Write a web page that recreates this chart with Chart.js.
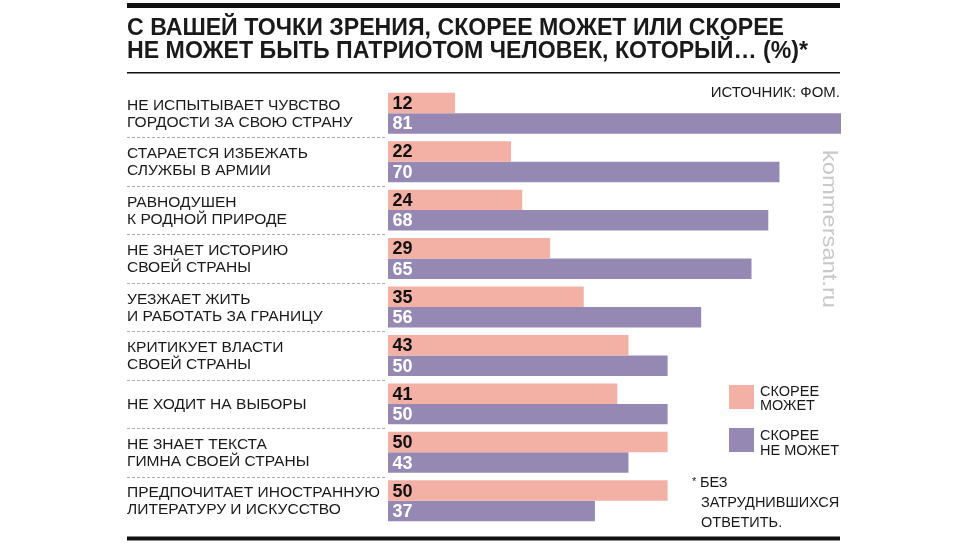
<!DOCTYPE html>
<html lang="ru">
<head>
    <meta charset="UTF-8">
    <title>Патриотизм — опрос ФОМ</title>
    <script src="https://cdn.jsdelivr.net/npm/chart.js"></script>
    <style>
        html, body { margin: 0; padding: 0; background: #fff; }
    </style>
</head>
<body>
    <canvas id="chart" width="968" height="544"></canvas>

    <script>
        // Данные графика
        const categories = [
            ['НЕ ИСПЫТЫВАЕТ ЧУВСТВО', 'ГОРДОСТИ ЗА СВОЮ СТРАНУ'],
            ['СТАРАЕТСЯ ИЗБЕЖАТЬ', 'СЛУЖБЫ В АРМИИ'],
            ['РАВНОДУШЕН', 'К РОДНОЙ ПРИРОДЕ'],
            ['НЕ ЗНАЕТ ИСТОРИЮ', 'СВОЕЙ СТРАНЫ'],
            ['УЕЗЖАЕТ ЖИТЬ', 'И РАБОТАТЬ ЗА ГРАНИЦУ'],
            ['КРИТИКУЕТ ВЛАСТИ', 'СВОЕЙ СТРАНЫ'],
            ['НЕ ХОДИТ НА ВЫБОРЫ'],
            ['НЕ ЗНАЕТ ТЕКСТА', 'ГИМНА СВОЕЙ СТРАНЫ'],
            ['ПРЕДПОЧИТАЕТ ИНОСТРАННУЮ', 'ЛИТЕРАТУРУ И ИСКУССТВО']
        ];
        const canBe = [12, 22, 24, 29, 35, 43, 41, 50, 50];
        const cannotBe = [81, 70, 68, 65, 56, 50, 50, 43, 37];
        const seriesNames = [['СКОРЕЕ', 'МОЖЕТ'], ['СКОРЕЕ', 'НЕ МОЖЕТ']];
        const titleLines = [
            'С ВАШЕЙ ТОЧКИ ЗРЕНИЯ, СКОРЕЕ МОЖЕТ ИЛИ СКОРЕЕ',
            'НЕ МОЖЕТ БЫТЬ ПАТРИОТОМ ЧЕЛОВЕК, КОТОРЫЙ… (%)*'
        ];
        const sourceText = 'ИСТОЧНИК: ФОМ.';
        const footnote = ['БЕЗ', 'ЗАТРУДНИВШИХСЯ', 'ОТВЕТИТЬ.'];
        const watermark = 'kommersant.ru';

        const PINK = '#f3b0a5';
        const PURPLE = '#9589b4';
        const INK = '#1a1a1a';
        const FONT = '"Liberation Sans", Arial, sans-serif';
        const LEFT = 127, RIGHT = 840;

        // текст, сжатый по горизонтали до нужной ширины
        function fitText(ctx, text, x, y, width) {
            const w = ctx.measureText(text).width;
            ctx.save();
            ctx.translate(x, y);
            ctx.scale(width / w, 1);
            ctx.fillText(text, 0, 0);
            ctx.restore();
        }

        const decor = {
            id: 'decor',
            afterDraw(chart) {
                const ctx = chart.ctx;
                const yScale = chart.scales.y;
                const step = yScale.getPixelForValue(1) - yScale.getPixelForValue(0);
                ctx.save();

                // линии
                ctx.fillStyle = '#111';
                ctx.fillRect(LEFT, 3, RIGHT - LEFT, 5);
                ctx.fillRect(LEFT, 72, RIGHT - LEFT, 1.5);
                ctx.fillRect(LEFT, 536.5, RIGHT - LEFT, 4);

                // заголовок
                ctx.fillStyle = INK;
                ctx.textBaseline = 'alphabetic';
                ctx.textAlign = 'left';
                ctx.font = 'bold 24px ' + FONT;
                fitText(ctx, titleLines[0], LEFT, 35, 657);
                fitText(ctx, titleLines[1], LEFT, 57.5, 681);

                // источник
                ctx.font = '15px ' + FONT;
                ctx.textAlign = 'right';
                ctx.fillText(sourceText, RIGHT, 97);

                // подписи категорий
                ctx.textAlign = 'left';
                ctx.textBaseline = 'middle';
                ctx.font = '15px ' + FONT;
                const longest = Math.max(...categories.flat().map(t => ctx.measureText(t).width));
                const sx = 253 / longest;
                categories.forEach((lines, i) => {
                    const cy = yScale.getPixelForValue(i);
                    const ys = lines.length === 1 ? [cy + 0.5] : [cy - 7.5, cy + 9.5];
                    lines.forEach((t, k) => {
                        ctx.save();
                        ctx.translate(LEFT, ys[k]);
                        ctx.scale(sx, 1);
                        ctx.fillText(t, 0, 0);
                        ctx.restore();
                    });
                    // пунктир между строками
                    if (i < categories.length - 1) {
                        const ly = Math.round(cy + step / 2) + 0.5;
                        ctx.save();
                        ctx.strokeStyle = '#ababab';
                        ctx.lineWidth = 1;
                        ctx.setLineDash([3, 2]);
                        ctx.beginPath();
                        ctx.moveTo(LEFT, ly);
                        ctx.lineTo(387, ly);
                        ctx.stroke();
                        ctx.restore();
                    }
                });

                // значения внутри столбиков
                ctx.font = 'bold 18px ' + FONT;
                chart.data.datasets.forEach((ds, di) => {
                    const meta = chart.getDatasetMeta(di);
                    ctx.fillStyle = di === 0 ? '#111' : '#fff';
                    meta.data.forEach((bar, i) => {
                        ctx.fillText(String(ds.data[i]), bar.base + 4.5, bar.y + 1);
                    });
                });

                // легенда
                ctx.font = '14.5px ' + FONT;
                ctx.textBaseline = 'alphabetic';
                [[PINK, 385, [396, 410]], [PURPLE, 428, [440, 455]]].forEach(([c, top, bl], k) => {
                    ctx.fillStyle = c;
                    ctx.fillRect(729, top, 25, 24);
                    ctx.fillStyle = INK;
                    seriesNames[k].forEach((t, j) => ctx.fillText(t, 760, bl[j]));
                });

                // сноска
                ctx.fillText(footnote[0], 700, 487);
                ctx.fillText(footnote[1], 701, 507);
                ctx.fillText(footnote[2], 701, 527);
                ctx.font = '11px ' + FONT;
                ctx.fillText('*', 692, 485);

                // водяной знак
                ctx.save();
                ctx.translate(829, 150);
                ctx.rotate(Math.PI / 2);
                ctx.font = '20px ' + FONT;
                ctx.fillStyle = '#c8c8c8';
                ctx.textBaseline = 'middle';
                fitText(ctx, watermark, 0, 0, 158);
                ctx.restore();

                ctx.restore();
            }
        };

        new Chart(document.getElementById('chart').getContext('2d'), {
            type: 'bar',
            data: {
                labels: categories,
                datasets: [
                    { label: seriesNames[0].join(' '), data: canBe, backgroundColor: PINK },
                    { label: seriesNames[1].join(' '), data: cannotBe, backgroundColor: PURPLE }
                ]
            },
            options: {
                indexAxis: 'y',
                responsive: false,
                animation: false,
                categoryPercentage: 0.845,
                barPercentage: 1,
                layout: { padding: { left: 388, right: 127, top: 89, bottom: 19 } },
                plugins: { legend: { display: false }, tooltip: { enabled: false } },
                scales: {
                    x: { display: false, min: 0, max: 81 },
                    y: { display: false }
                }
            },
            plugins: [decor]
        });
    </script>
</body>
</html>
